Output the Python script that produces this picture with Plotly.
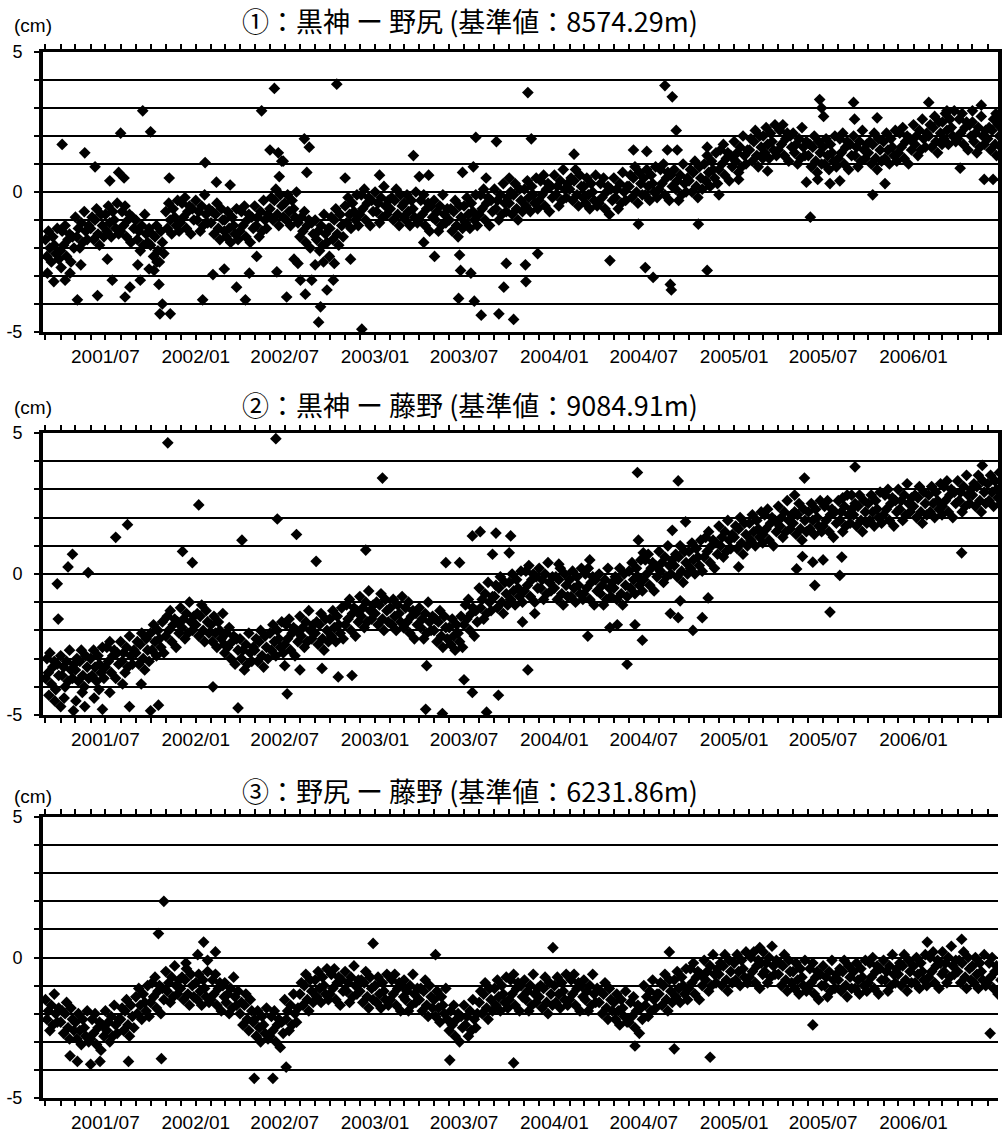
import plotly.graph_objects as go
import pandas as pd

# ---------------- data ----------------
months = [str(p) for p in pd.period_range("2001-03", "2006-06", freq="M")]
sample_days = [1, 4, 7, 10, 13, 16, 19, 22, 25, 28]

tick_months = [str(p) for p in pd.period_range("2001-03", "2006-06", freq="M")]
label_months = {"2001-07": "2001/07", "2002-01": "2002/01", "2002-07": "2002/07",
                "2003-01": "2003/01", "2003-07": "2003/07", "2004-01": "2004/01",
                "2004-07": "2004/07", "2005-01": "2005/01", "2005-07": "2005/07",
                "2006-01": "2006/01"}

titles = ["①：黒神 ー 野尻 (基準値：8574.29m)",
          "②：黒神 ー 藤野 (基準値：9084.91m)",
          "③：野尻 ー 藤野 (基準値：6231.86m)"]

# panel 1 : 黒神 - 野尻  (cm), 10 readings per month
p1_rows = [
    [-1.7, -2.3, -1.4, -2.0, -2.5, -1.6, -1.9, -2.2, -1.3, -2.4],
    [-2.1, -1.4, -1.9, -1.2, -2.3, -1.7, -1.5, -2.5, -1.6, -2.0],
    [-0.9, -1.6, -1.3, -2.0, -1.1, -1.8, -0.7, -1.4, -1.7, -1.2],
    [-1.3, -0.9, -1.7, -1.0, -0.6, -1.5, -1.9, -0.8, -1.2, -1.6],
    [-0.8, -1.4, -0.5, -1.1, -1.6, -0.7, -1.0, -1.3, -0.4, -1.5],
    [-1.4, -0.7, -1.2, -0.5, -1.6, -1.0, -0.8, -1.8, -0.9, -1.3],
    [-1.0, -1.7, -1.4, -2.1, -1.2, -1.9, -0.8, -1.5, -1.8, -1.3],
    [-1.9, -1.5, -2.3, -1.6, -1.2, -2.1, -2.5, -1.4, -1.8, -2.2],
    [-0.7, -1.3, -0.4, -1.0, -1.5, -0.6, -0.9, -1.2, -0.3, -1.4],
    [-1.1, -0.4, -0.9, -0.2, -1.3, -0.7, -0.5, -1.5, -0.6, -1.0],
    [-0.3, -1.0, -0.7, -1.4, -0.5, -1.2, -0.1, -0.8, -1.1, -0.6],
    [-1.1, -0.7, -1.5, -0.8, -0.4, -1.3, -1.7, -0.6, -1.0, -1.4],
    [-1.0, -1.6, -0.7, -1.3, -1.8, -0.9, -1.2, -1.5, -0.6, -1.7],
    [-1.4, -0.7, -1.2, -0.5, -1.6, -1.0, -0.8, -1.8, -0.9, -1.3],
    [-0.5, -1.2, -0.9, -1.6, -0.7, -1.4, -0.3, -1.0, -1.3, -0.8],
    [-0.6, -0.2, -1.0, -0.3, 0.1, -0.8, -1.2, -0.1, -0.5, -0.9],
    [-0.4, -1.0, -0.1, -0.7, -1.2, -0.3, -0.6, -0.9, 0.0, -1.1],
    [-1.6, -0.9, -1.4, -0.7, -1.8, -1.2, -1.0, -2.0, -1.1, -1.5],
    [-1.0, -1.7, -1.4, -2.1, -1.2, -1.9, -0.8, -1.5, -1.8, -1.3],
    [-1.3, -0.9, -1.7, -1.0, -0.6, -1.5, -1.9, -0.8, -1.2, -1.6],
    [-0.5, -1.1, -0.2, -0.8, -1.3, -0.4, -0.7, -1.0, -0.1, -1.2],
    [-0.8, -0.1, -0.6, 0.1, -1.0, -0.4, -0.2, -1.2, -0.3, -0.7],
    [0.0, -0.7, -0.4, -1.1, -0.2, -0.9, 0.2, -0.5, -0.8, -0.3],
    [-0.6, -0.2, -1.0, -0.3, 0.1, -0.8, -1.2, -0.1, -0.5, -0.9],
    [-0.4, -1.0, -0.1, -0.7, -1.2, -0.3, -0.6, -0.9, 0.0, -1.1],
    [-1.0, -0.3, -0.8, -0.1, -1.2, -0.6, -0.4, -1.4, -0.5, -0.9],
    [-0.3, -1.0, -0.7, -1.4, -0.5, -1.2, -0.1, -0.8, -1.1, -0.6],
    [-1.0, -0.6, -1.4, -0.7, -0.3, -1.2, -1.6, -0.5, -0.9, -1.3],
    [-0.5, -1.1, -0.2, -0.8, -1.3, -0.4, -0.7, -1.0, -0.1, -1.2],
    [-0.8, -0.1, -0.6, 0.1, -1.0, -0.4, -0.2, -1.2, -0.3, -0.7],
    [0.1, -0.6, -0.3, -1.0, -0.1, -0.8, 0.3, -0.4, -0.7, -0.2],
    [-0.4, 0.0, -0.8, -0.1, 0.3, -0.6, -1.0, 0.1, -0.3, -0.7],
    [0.1, -0.5, 0.4, -0.2, -0.7, 0.2, -0.1, -0.4, 0.5, -0.6],
    [-0.3, 0.4, -0.1, 0.6, -0.5, 0.1, 0.3, -0.7, 0.2, -0.2],
    [0.6, -0.1, 0.2, -0.5, 0.4, -0.3, 0.8, 0.1, -0.2, 0.3],
    [0.1, 0.5, -0.3, 0.4, 0.8, -0.1, -0.5, 0.6, 0.2, -0.2],
    [0.2, -0.4, 0.5, -0.1, -0.6, 0.3, 0.0, -0.3, 0.6, -0.5],
    [-0.4, 0.3, -0.2, 0.5, -0.6, 0.0, 0.2, -0.8, 0.1, -0.3],
    [0.5, -0.2, 0.1, -0.6, 0.3, -0.4, 0.7, 0.0, -0.3, 0.2],
    [0.2, 0.6, -0.2, 0.5, 0.9, 0.0, -0.4, 0.7, 0.3, -0.1],
    [0.5, -0.1, 0.8, 0.2, -0.3, 0.6, 0.3, 0.0, 0.9, -0.2],
    [0.1, 0.8, 0.3, 1.0, -0.1, 0.5, 0.7, -0.3, 0.6, 0.2],
    [0.8, 0.1, 0.4, -0.3, 0.6, -0.1, 1.0, 0.3, 0.0, 0.5],
    [0.4, 0.8, 0.0, 0.7, 1.1, 0.2, -0.2, 0.9, 0.5, 0.1],
    [1.0, 0.4, 1.3, 0.7, 0.2, 1.1, 0.8, 0.5, 1.4, 0.3],
    [0.8, 1.5, 1.0, 1.7, 0.6, 1.2, 1.4, 0.4, 1.3, 0.9],
    [1.8, 1.1, 1.4, 0.7, 1.6, 0.9, 2.0, 1.3, 1.0, 1.5],
    [1.5, 1.9, 1.1, 1.8, 2.2, 1.3, 0.9, 2.0, 1.6, 1.2],
    [2.0, 1.4, 2.3, 1.7, 1.2, 2.1, 1.8, 1.5, 2.4, 1.3],
    [1.5, 2.2, 1.7, 2.4, 1.3, 1.9, 2.1, 1.1, 2.0, 1.6],
    [2.1, 1.4, 1.7, 1.0, 1.9, 1.2, 2.3, 1.6, 1.3, 1.8],
    [1.3, 1.7, 0.9, 1.6, 2.0, 1.1, 0.7, 1.8, 1.4, 1.0],
    [1.6, 1.0, 1.9, 1.3, 0.8, 1.7, 1.4, 1.1, 2.0, 0.9],
    [1.2, 1.9, 1.4, 2.1, 1.0, 1.6, 1.8, 0.8, 1.7, 1.3],
    [2.0, 1.3, 1.6, 0.9, 1.8, 1.1, 2.2, 1.5, 1.2, 1.7],
    [1.4, 1.8, 1.0, 1.7, 2.1, 1.2, 0.8, 1.9, 1.5, 1.1],
    [1.8, 1.2, 2.1, 1.5, 1.0, 1.9, 1.6, 1.3, 2.2, 1.1],
    [1.4, 2.1, 1.6, 2.3, 1.2, 1.8, 2.0, 1.0, 1.9, 1.5],
    [2.4, 1.7, 2.0, 1.3, 2.2, 1.5, 2.6, 1.9, 1.6, 2.1],
    [2.0, 2.4, 1.6, 2.3, 2.7, 1.8, 1.4, 2.5, 2.1, 1.7],
    [2.5, 1.9, 2.8, 2.2, 1.7, 2.6, 2.3, 2.0, 2.9, 1.8],
    [1.9, 2.6, 2.1, 2.8, 1.7, 2.3, 2.5, 1.5, 2.4, 2.0],
    [2.5, 1.8, 2.1, 1.4, 2.3, 1.6, 2.7, 2.0, 1.7, 2.2],
    [1.9, 2.3, 1.5, 2.2, 2.6, 1.7, 1.3, 2.4, 2.0, 1.6],
]
p1_extra_dates = [
    "2001-04-04", "2001-05-20", "2001-08-01", "2001-09-15", "2001-10-01", "2001-06-10",
    "2002-01-20", "2002-05-15", "2002-06-10", "2002-06-01", "2002-06-18", "2002-06-25",
    "2002-08-10", "2002-08-20", "2002-10-15", "2003-03-20", "2003-07-25", "2003-09-05",
    "2003-11-08", "2003-11-15", "2004-02-10", "2004-08-13", "2004-08-28", "2004-09-05",
    "2005-06-05",
    "2001-05-05", "2001-06-15", "2001-08-10", "2001-10-20", "2001-11-10", "2001-10-25",
    "2002-01-15", "2002-03-25", "2002-04-12", "2002-07-05", "2002-08-12", "2002-09-12",
    "2002-09-08", "2002-09-25", "2002-12-05", "2003-06-20", "2003-07-22", "2003-08-05",
    "2003-09-10", "2003-10-10", "2003-09-20", "2003-07-15", "2003-09-25",
    "2003-11-03", "2003-11-04", "2003-11-28", "2004-04-23", "2004-07-04", "2004-07-20",
    "2004-08-24", "2004-08-26", "2004-11-07",
    "2001-04-10", "2001-04-02", "2001-07-15", "2001-08-20", "2001-09-10", "2001-09-28",
    "2001-10-18", "2002-02-05", "2002-02-28", "2002-04-20", "2002-06-15", "2002-07-28",
    "2002-08-02", "2002-08-25", "2002-09-18", "2002-10-08", "2002-10-10", "2002-11-12",
    "2003-04-10", "2003-05-02", "2003-06-22", "2003-06-24",
    "2001-07-10", "2001-07-28", "2001-08-08", "2001-11-08", "2002-02-12", "2002-03-12",
    "2002-06-20", "2002-06-28", "2002-08-15", "2002-11-01", "2003-01-10", "2003-04-01",
    "2003-04-20", "2003-06-28", "2003-07-20", "2003-08-15", "2003-10-01",
    "2004-06-10", "2004-07-07", "2004-08-18", "2004-09-07", "2004-11-07",
    "2005-06-24", "2005-06-28", "2005-07-02", "2005-09-01", "2005-09-03", "2005-10-19",
    "2006-02-01", "2006-03-10", "2006-05-01", "2006-05-19", "2006-06-18",
    "2005-05-28", "2005-06-20", "2005-07-15", "2005-08-04", "2005-10-10", "2005-11-04",
    "2006-04-06", "2006-05-25", "2006-06-12", "2005-03-10", "2005-01-10", "2004-12-01",
    "2004-06-20", "2004-10-20",
    "2001-03-05", "2001-03-18", "2001-04-20", "2001-05-12", "2001-07-05", "2001-09-05",
    "2001-10-08", "2001-10-14", "2002-05-05", "2002-07-20", "2002-09-01", "2002-09-30",
]
p1_extra_values = [
    1.7, 1.4, 2.1, 2.9, 2.15, 0.9,
    1.05, 2.9, 3.7, 1.5, 1.4, 1.1,
    1.9, 1.6, 3.85, 1.3, 1.95, 1.8,
    3.55, 1.9, 1.35, 3.8, 3.4, 2.2,
    -0.9,
    -3.85, -3.7, -3.75, -4.35, -4.35, -4.0,
    -3.85, -3.4, -3.85, -3.75, -3.65, -4.1,
    -4.65, -3.5, -4.9, -3.8, -3.9, -4.4,
    -4.35, -4.55, -3.4, -2.9, -2.55,
    -2.6, -3.2, -2.2, -2.45, -2.7, -3.05,
    -3.3, -3.5, -2.8,
    -3.15, -2.7, -3.15, -3.4, -3.15, -2.75,
    -3.3, -2.95, -2.75, -2.9, -2.85, -2.55,
    -3.15, -3.15, -2.5, -3.15, -2.55, -2.4,
    -1.8, -2.3, -2.25, -2.8,
    0.4, 0.7, 0.5, 0.5, 0.35, 0.25,
    0.55, 1.1, 0.7, 0.5, 0.6, 0.55,
    0.6, 0.7, 0.9, 0.5, 0.5,
    1.5, 1.45, 1.5, 1.5, 1.6,
    3.3, 3.0, 2.7, 3.2, 2.6, 2.65,
    3.2, 2.9, 2.9, 3.1, 2.8,
    0.35, 0.45, 0.3, 0.4, -0.1, 0.3,
    0.85, 0.45, 0.45, 0.75, 0.45, -0.1,
    -1.15, -1.15,
    -2.9, -3.2, -2.9, -2.6, -2.4, -2.6,
    -2.8, -2.5, -2.3, -2.4, -2.6, -2.3,
]

# panel 2 : 黒神 - 藤野  (cm)
p2_rows = [
    [-3.7, -3.0, -3.5, -2.8, -3.9, -3.3, -3.1, -4.1, -3.2, -3.6],
    [-2.9, -3.6, -3.3, -4.0, -3.1, -3.8, -2.7, -3.4, -3.7, -3.2],
    [-3.4, -3.0, -3.8, -3.1, -2.7, -3.6, -4.0, -2.9, -3.3, -3.7],
    [-3.0, -3.6, -2.7, -3.3, -3.8, -2.9, -3.2, -3.5, -2.6, -3.7],
    [-3.3, -2.6, -3.1, -2.4, -3.5, -2.9, -2.7, -3.7, -2.8, -3.2],
    [-2.4, -3.1, -2.8, -3.5, -2.6, -3.3, -2.2, -2.9, -3.2, -2.7],
    [-2.8, -2.4, -3.2, -2.5, -2.1, -3.0, -3.4, -2.3, -2.7, -3.1],
    [-2.1, -2.7, -1.8, -2.4, -2.9, -2.0, -2.3, -2.6, -1.7, -2.8],
    [-2.2, -1.5, -2.0, -1.3, -2.4, -1.8, -1.6, -2.6, -1.7, -2.1],
    [-1.2, -1.9, -1.6, -2.3, -1.4, -2.1, -1.0, -1.7, -2.0, -1.5],
    [-1.8, -1.4, -2.2, -1.5, -1.1, -2.0, -2.4, -1.3, -1.7, -2.1],
    [-1.8, -2.4, -1.5, -2.1, -2.6, -1.7, -2.0, -2.3, -1.4, -2.5],
    [-2.8, -2.1, -2.6, -1.9, -3.0, -2.4, -2.2, -3.2, -2.3, -2.7],
    [-2.3, -3.0, -2.7, -3.4, -2.5, -3.2, -2.1, -2.8, -3.1, -2.6],
    [-2.7, -2.3, -3.1, -2.4, -2.0, -2.9, -3.3, -2.2, -2.6, -3.0],
    [-2.1, -2.7, -1.8, -2.4, -2.9, -2.0, -2.3, -2.6, -1.7, -2.8],
    [-2.5, -1.8, -2.3, -1.6, -2.7, -2.1, -1.9, -2.9, -2.0, -2.4],
    [-1.5, -2.2, -1.9, -2.6, -1.7, -2.4, -1.3, -2.0, -2.3, -1.8],
    [-2.1, -1.7, -2.5, -1.8, -1.4, -2.3, -2.7, -1.6, -2.0, -2.4],
    [-1.6, -2.2, -1.3, -1.9, -2.4, -1.5, -1.8, -2.1, -1.2, -2.3],
    [-1.8, -1.1, -1.6, -0.9, -2.0, -1.4, -1.2, -2.2, -1.3, -1.7],
    [-0.8, -1.5, -1.2, -1.9, -1.0, -1.7, -0.6, -1.3, -1.6, -1.1],
    [-1.4, -1.0, -1.8, -1.1, -0.7, -1.6, -2.0, -0.9, -1.3, -1.7],
    [-1.2, -1.8, -0.9, -1.5, -2.0, -1.1, -1.4, -1.7, -0.8, -1.9],
    [-1.9, -1.2, -1.7, -1.0, -2.1, -1.5, -1.3, -2.3, -1.4, -1.8],
    [-1.2, -1.9, -1.6, -2.3, -1.4, -2.1, -1.0, -1.7, -2.0, -1.5],
    [-2.0, -1.6, -2.4, -1.7, -1.3, -2.2, -2.6, -1.5, -1.9, -2.3],
    [-1.9, -2.5, -1.6, -2.2, -2.7, -1.8, -2.1, -2.4, -1.5, -2.6],
    [-1.8, -1.1, -1.6, -0.9, -2.0, -1.4, -1.2, -2.2, -1.3, -1.7],
    [-0.5, -1.2, -0.9, -1.6, -0.7, -1.4, -0.3, -1.0, -1.3, -0.8],
    [-0.8, -0.4, -1.2, -0.5, -0.1, -1.0, -1.4, -0.3, -0.7, -1.1],
    [-0.3, -0.9, 0.0, -0.6, -1.1, -0.2, -0.5, -0.8, 0.1, -1.0],
    [-0.6, 0.1, -0.4, 0.3, -0.8, -0.2, 0.0, -1.0, -0.1, -0.5],
    [0.2, -0.5, -0.2, -0.9, 0.0, -0.7, 0.4, -0.3, -0.6, -0.1],
    [-0.5, -0.1, -0.9, -0.2, 0.2, -0.7, -1.1, 0.0, -0.4, -0.8],
    [-0.2, -0.8, 0.1, -0.5, -1.0, -0.1, -0.4, -0.7, 0.2, -0.9],
    [-0.7, 0.0, -0.5, 0.2, -0.9, -0.3, -0.1, -1.1, -0.2, -0.6],
    [0.0, -0.7, -0.4, -1.1, -0.2, -0.9, 0.2, -0.5, -0.8, -0.3],
    [-0.5, -0.1, -0.9, -0.2, 0.2, -0.7, -1.1, 0.0, -0.4, -0.8],
    [0.1, -0.5, 0.4, -0.2, -0.7, 0.2, -0.1, -0.4, 0.5, -0.6],
    [-0.2, 0.5, 0.0, 0.7, -0.4, 0.2, 0.4, -0.6, 0.3, -0.1],
    [0.8, 0.1, 0.4, -0.3, 0.6, -0.1, 1.0, 0.3, 0.0, 0.5],
    [0.3, 0.7, -0.1, 0.6, 1.0, 0.1, -0.3, 0.8, 0.4, 0.0],
    [0.8, 0.2, 1.1, 0.5, 0.0, 0.9, 0.6, 0.3, 1.2, 0.1],
    [0.6, 1.3, 0.8, 1.5, 0.4, 1.0, 1.2, 0.2, 1.1, 0.7],
    [1.7, 1.0, 1.3, 0.6, 1.5, 0.8, 1.9, 1.2, 0.9, 1.4],
    [1.3, 1.7, 0.9, 1.6, 2.0, 1.1, 0.7, 1.8, 1.4, 1.0],
    [1.8, 1.2, 2.1, 1.5, 1.0, 1.9, 1.6, 1.3, 2.2, 1.1],
    [1.4, 2.1, 1.6, 2.3, 1.2, 1.8, 2.0, 1.0, 1.9, 1.5],
    [2.4, 1.7, 2.0, 1.3, 2.2, 1.5, 2.6, 1.9, 1.6, 2.1],
    [1.8, 2.2, 1.4, 2.1, 2.5, 1.6, 1.2, 2.3, 1.9, 1.5],
    [2.2, 1.6, 2.5, 1.9, 1.4, 2.3, 2.0, 1.7, 2.6, 1.5],
    [1.7, 2.4, 1.9, 2.6, 1.5, 2.1, 2.3, 1.3, 2.2, 1.8],
    [2.6, 1.9, 2.2, 1.5, 2.4, 1.7, 2.8, 2.1, 1.8, 2.3],
    [2.1, 2.5, 1.7, 2.4, 2.8, 1.9, 1.5, 2.6, 2.2, 1.8],
    [2.5, 1.9, 2.8, 2.2, 1.7, 2.6, 2.3, 2.0, 2.9, 1.8],
    [2.1, 2.8, 2.3, 3.0, 1.9, 2.5, 2.7, 1.7, 2.6, 2.2],
    [3.0, 2.3, 2.6, 1.9, 2.8, 2.1, 3.2, 2.5, 2.2, 2.7],
    [2.4, 2.8, 2.0, 2.7, 3.1, 2.2, 1.8, 2.9, 2.5, 2.1],
    [2.8, 2.2, 3.1, 2.5, 2.0, 2.9, 2.6, 2.3, 3.2, 2.1],
    [2.4, 3.1, 2.6, 3.3, 2.2, 2.8, 3.0, 2.0, 2.9, 2.5],
    [3.3, 2.6, 2.9, 2.2, 3.1, 2.4, 3.5, 2.8, 2.5, 3.0],
    [2.8, 3.2, 2.4, 3.1, 3.5, 2.6, 2.2, 3.3, 2.9, 2.5],
    [3.2, 2.6, 3.5, 2.9, 2.4, 3.3, 3.0, 2.7, 3.6, 2.5],
]
p2_extra_dates = [
    "2001-11-05", "2002-06-13", "2003-01-16", "2002-01-07", "2002-06-16", "2001-08-15",
    "2001-07-22", "2001-04-25", "2001-04-16", "2001-03-25", "2001-03-27", "2001-05-27",
    "2001-12-05", "2001-12-25", "2002-04-05", "2002-07-25", "2002-09-03", "2002-12-13",
    "2003-05-25", "2003-06-22", "2003-07-18", "2003-08-03", "2003-09-04", "2003-10-04",
    "2003-08-28", "2003-10-01",
    "2001-04-01", "2001-04-27", "2001-05-20", "2001-06-25", "2001-08-19", "2001-10-01",
    "2001-10-17", "2002-02-05", "2002-03-28", "2002-07-06", "2002-07-01", "2002-08-01",
    "2002-09-15", "2002-10-18", "2002-11-15", "2003-04-16", "2003-04-14", "2003-05-18",
    "2003-07-01", "2003-07-18", "2003-09-09", "2003-08-16",
    "2004-06-18", "2004-09-09", "2005-09-04", "2005-05-24", "2005-05-04", "2005-08-28",
    "2005-08-10", "2006-05-21", "2004-09-24", "2004-08-28", "2004-06-20", "2004-06-30",
    "2004-03-13", "2004-01-10", "2005-01-10", "2006-04-09", "2005-05-08", "2005-06-14",
    "2005-08-04", "2005-07-15", "2005-05-20", "2005-06-10", "2005-07-01", "2005-08-08",
    "2003-11-08", "2003-10-28", "2003-11-22", "2004-03-09", "2004-04-23", "2004-05-08",
    "2004-05-28", "2004-06-13", "2004-06-28", "2004-08-24", "2004-09-09", "2004-10-09",
    "2004-10-28", "2004-11-09", "2004-09-13",
    "2001-03-08", "2001-03-20", "2001-04-08", "2001-05-02", "2001-05-15", "2001-06-08",
    "2001-06-18", "2001-07-10", "2001-08-05", "2001-09-12",
]
p2_extra_values = [
    4.65, 4.8, 3.4, 2.45, 1.95, 1.75,
    1.3, 0.7, 0.25, -0.35, -1.6, 0.05,
    0.8, 0.4, 1.2, 1.4, 0.45, 0.85,
    0.4, 0.4, 1.35, 1.5, 1.45, 1.35,
    0.7, 0.75,
    -4.7, -4.85, -4.7, -4.8, -4.7, -4.85,
    -4.65, -4.0, -4.75, -4.25, -3.25, -3.4,
    -3.35, -3.65, -3.6, -3.25, -4.8, -4.95,
    -3.75, -4.2, -4.3, -4.9,
    3.6, 3.3, 3.8, 3.4, 2.8, 2.8,
    2.7, 3.85, 1.85, 1.55, 1.2, 0.75,
    0.5, 0.35, 0.25, 0.75, 0.18, -0.4,
    -0.05, -1.35, 0.62, 0.42, 0.5, 0.6,
    -3.4, -1.7, -1.4, -2.2, -1.9, -1.8,
    -3.2, -1.8, -2.35, -1.4, -1.55, -2.0,
    -1.55, -0.85, -0.95,
    -4.3, -4.5, -4.4, -4.5, -4.2, -4.4,
    -4.1, -4.2, -3.9, -3.9,
]

# panel 3 : 野尻 - 藤野  (cm)
p3_rows = [
    [-1.5, -2.2, -1.9, -2.6, -1.7, -2.4, -1.3, -2.0, -2.3, -1.8],
    [-2.3, -1.9, -2.7, -2.0, -1.6, -2.5, -2.9, -1.8, -2.2, -2.6],
    [-2.3, -2.9, -2.0, -2.6, -3.1, -2.2, -2.5, -2.8, -1.9, -3.0],
    [-2.9, -2.2, -2.7, -2.0, -3.1, -2.5, -2.3, -3.3, -2.4, -2.8],
    [-1.9, -2.6, -2.3, -3.0, -2.1, -2.8, -1.7, -2.4, -2.7, -2.2],
    [-2.2, -1.8, -2.6, -1.9, -1.5, -2.4, -2.8, -1.7, -2.1, -2.5],
    [-1.4, -2.0, -1.1, -1.7, -2.2, -1.3, -1.6, -1.9, -1.0, -2.1],
    [-1.6, -0.9, -1.4, -0.7, -1.8, -1.2, -1.0, -2.0, -1.1, -1.5],
    [-0.5, -1.2, -0.9, -1.6, -0.7, -1.4, -0.3, -1.0, -1.3, -0.8],
    [-1.1, -0.7, -1.5, -0.8, -0.4, -1.3, -1.7, -0.6, -1.0, -1.4],
    [-0.9, -1.5, -0.6, -1.2, -1.7, -0.8, -1.1, -1.4, -0.5, -1.6],
    [-1.5, -0.8, -1.3, -0.6, -1.7, -1.1, -0.9, -1.9, -1.0, -1.4],
    [-0.9, -1.6, -1.3, -2.0, -1.1, -1.8, -0.7, -1.4, -1.7, -1.2],
    [-2.0, -1.6, -2.4, -1.7, -1.3, -2.2, -2.6, -1.5, -1.9, -2.3],
    [-2.2, -2.8, -1.9, -2.5, -3.0, -2.1, -2.4, -2.7, -1.8, -2.9],
    [-2.8, -2.1, -2.6, -1.9, -3.0, -2.4, -2.2, -3.2, -2.3, -2.7],
    [-1.5, -2.2, -1.9, -2.6, -1.7, -2.4, -1.3, -2.0, -2.3, -1.8],
    [-1.3, -0.9, -1.7, -1.0, -0.6, -1.5, -1.9, -0.8, -1.2, -1.6],
    [-0.8, -1.4, -0.5, -1.1, -1.6, -0.7, -1.0, -1.3, -0.4, -1.5],
    [-1.3, -0.6, -1.1, -0.4, -1.5, -0.9, -0.7, -1.7, -0.8, -1.2],
    [-0.5, -1.2, -0.9, -1.6, -0.7, -1.4, -0.3, -1.0, -1.3, -0.8],
    [-1.2, -0.8, -1.6, -0.9, -0.5, -1.4, -1.8, -0.7, -1.1, -1.5],
    [-1.0, -1.6, -0.7, -1.3, -1.8, -0.9, -1.2, -1.5, -0.6, -1.7],
    [-1.5, -0.8, -1.3, -0.6, -1.7, -1.1, -0.9, -1.9, -1.0, -1.4],
    [-0.8, -1.5, -1.2, -1.9, -1.0, -1.7, -0.6, -1.3, -1.6, -1.1],
    [-1.5, -1.1, -1.9, -1.2, -0.8, -1.7, -2.1, -1.0, -1.4, -1.8],
    [-1.5, -2.1, -1.2, -1.8, -2.3, -1.4, -1.7, -2.0, -1.1, -2.2],
    [-2.6, -1.9, -2.4, -1.7, -2.8, -2.2, -2.0, -3.0, -2.1, -2.5],
    [-1.7, -2.4, -2.1, -2.8, -1.9, -2.6, -1.5, -2.2, -2.5, -2.0],
    [-1.6, -1.2, -2.0, -1.3, -0.9, -1.8, -2.2, -1.1, -1.5, -1.9],
    [-1.1, -1.7, -0.8, -1.4, -1.9, -1.0, -1.3, -1.6, -0.7, -1.8],
    [-1.5, -0.8, -1.3, -0.6, -1.7, -1.1, -0.9, -1.9, -1.0, -1.4],
    [-0.8, -1.5, -1.2, -1.9, -1.0, -1.7, -0.6, -1.3, -1.6, -1.1],
    [-1.4, -1.0, -1.8, -1.1, -0.7, -1.6, -2.0, -0.9, -1.3, -1.7],
    [-1.0, -1.6, -0.7, -1.3, -1.8, -0.9, -1.2, -1.5, -0.6, -1.7],
    [-1.5, -0.8, -1.3, -0.6, -1.7, -1.1, -0.9, -1.9, -1.0, -1.4],
    [-0.8, -1.5, -1.2, -1.9, -1.0, -1.7, -0.6, -1.3, -1.6, -1.1],
    [-1.6, -1.2, -2.0, -1.3, -0.9, -1.8, -2.2, -1.1, -1.5, -1.9],
    [-1.6, -2.2, -1.3, -1.9, -2.4, -1.5, -1.8, -2.1, -1.2, -2.3],
    [-2.3, -1.6, -2.1, -1.4, -2.5, -1.9, -1.7, -2.7, -1.8, -2.2],
    [-1.0, -1.7, -1.4, -2.1, -1.2, -1.9, -0.8, -1.5, -1.8, -1.3],
    [-1.3, -0.9, -1.7, -1.0, -0.6, -1.5, -1.9, -0.8, -1.2, -1.6],
    [-0.8, -1.4, -0.5, -1.1, -1.6, -0.7, -1.0, -1.3, -0.4, -1.5],
    [-1.1, -0.4, -0.9, -0.2, -1.3, -0.7, -0.5, -1.5, -0.6, -1.0],
    [-0.1, -0.8, -0.5, -1.2, -0.3, -1.0, 0.1, -0.6, -0.9, -0.4],
    [-0.6, -0.2, -1.0, -0.3, 0.1, -0.8, -1.2, -0.1, -0.5, -0.9],
    [-0.2, -0.8, 0.1, -0.5, -1.0, -0.1, -0.4, -0.7, 0.2, -0.9],
    [-0.7, 0.0, -0.5, 0.2, -0.9, -0.3, -0.1, -1.1, -0.2, -0.6],
    [0.2, -0.5, -0.2, -0.9, 0.0, -0.7, 0.4, -0.3, -0.6, -0.1],
    [-0.6, -0.2, -1.0, -0.3, 0.1, -0.8, -1.2, -0.1, -0.5, -0.9],
    [-0.5, -1.1, -0.2, -0.8, -1.3, -0.4, -0.7, -1.0, -0.1, -1.2],
    [-1.1, -0.4, -0.9, -0.2, -1.3, -0.7, -0.5, -1.5, -0.6, -1.0],
    [-0.3, -1.0, -0.7, -1.4, -0.5, -1.2, -0.1, -0.8, -1.1, -0.6],
    [-0.8, -0.4, -1.2, -0.5, -0.1, -1.0, -1.4, -0.3, -0.7, -1.1],
    [-0.5, -1.1, -0.2, -0.8, -1.3, -0.4, -0.7, -1.0, -0.1, -1.2],
    [-0.9, -0.2, -0.7, 0.0, -1.1, -0.5, -0.3, -1.3, -0.4, -0.8],
    [-0.1, -0.8, -0.5, -1.2, -0.3, -1.0, 0.1, -0.6, -0.9, -0.4],
    [-0.6, -0.2, -1.0, -0.3, 0.1, -0.8, -1.2, -0.1, -0.5, -0.9],
    [-0.3, -0.9, 0.0, -0.6, -1.1, -0.2, -0.5, -0.8, 0.1, -1.0],
    [-0.7, 0.0, -0.5, 0.2, -0.9, -0.3, -0.1, -1.1, -0.2, -0.6],
    [0.2, -0.5, -0.2, -0.9, 0.0, -0.7, 0.4, -0.3, -0.6, -0.1],
    [-0.5, -0.1, -0.9, -0.2, 0.2, -0.7, -1.1, 0.0, -0.4, -0.8],
    [-0.3, -0.9, 0.0, -0.6, -1.1, -0.2, -0.5, -0.8, 0.1, -1.0],
    [-0.9, -0.2, -0.7, 0.0, -1.1, -0.5, -0.3, -1.3, -0.4, -0.8],
]
p3_extra_dates = [
    "2001-10-28", "2001-10-17", "2002-01-17", "2002-12-28", "2003-12-29", "2004-08-22",
    "2006-01-29", "2006-04-09", "2005-02-22", "2003-05-04",
    "2001-10-23", "2001-08-17", "2002-04-30", "2002-06-07", "2002-07-04", "2003-06-02",
    "2003-10-10", "2004-11-13", "2004-09-01", "2004-06-13", "2006-06-06", "2005-06-10",
    "2001-04-20", "2001-05-05", "2001-06-01", "2001-06-20",
    "2002-01-05", "2002-01-25", "2002-02-10", "2001-12-12",
]
p3_extra_values = [
    2.0, 0.85, 0.55, 0.5, 0.35, 0.2,
    0.55, 0.65, 0.35, 0.1,
    -3.6, -3.7, -4.3, -4.3, -3.9, -3.65,
    -3.75, -3.55, -3.25, -3.15, -2.7, -2.4,
    -3.5, -3.7, -3.8, -3.7,
    0.1, -0.1, 0.2, -0.2,
]

panels = [(p1_rows, p1_extra_dates, p1_extra_values),
          (p2_rows, p2_extra_dates, p2_extra_values),
          (p3_rows, p3_extra_dates, p3_extra_values)]

# ---------------- layout constants ----------------
W, H = 1002, 1142
x_dom = [43 / W, 998 / W]
panel_px = [(52, 332), (433, 715), (817, 1098)]     # top, bottom in pixels
title_y_px = [20, 404, 790]
cm_y_px = [25, 408, 796]
tick_font = dict(family="Liberation Sans, Arial, sans-serif", size=19, color="black")
ytick_font = dict(family="Liberation Sans, Arial, sans-serif", size=18, color="black")
cjk_font = dict(family="Noto Sans CJK JP, sans-serif", size=27, color="black")

x_tickvals = [m + "-01" for m in tick_months]
x_ticktext = [label_months.get(m, "") for m in tick_months]

fig = go.Figure()
layout = dict(width=W, height=H, margin=dict(l=0, r=0, t=0, b=0),
              paper_bgcolor="white", plot_bgcolor="white", showlegend=False,
              annotations=[])

y_tickvals = list(range(-5, 6))
y_ticktext = [str(v) if v in (-5, 0, 5) else "" for v in y_tickvals]

for i, (rows, ex_d, ex_v) in enumerate(panels):
    xs, ys = [], []
    for m, row in zip(months, rows):
        for d, v in zip(sample_days, row):
            xs.append(f"{m}-{d:02d}")
            ys.append(v)
    xs += ex_d
    ys += ex_v
    sfx = "" if i == 0 else str(i + 1)
    fig.add_trace(go.Scatter(
        x=xs, y=ys, mode="markers",
        marker=dict(symbol="diamond", size=9, color="black", line=dict(width=0)),
        xaxis="x" + sfx, yaxis="y" + sfx, cliponaxis=True))

    top, bot = panel_px[i]
    layout["xaxis" + sfx] = dict(
        domain=x_dom, anchor="y" + sfx, type="date",
        range=["2001-02-24", "2006-06-22"],
        tickmode="array", tickvals=x_tickvals, ticktext=x_ticktext,
        ticks="outside", ticklen=5, tickwidth=2, tickcolor="black",
        showline=True, linewidth=3, linecolor="black", mirror="ticks",
        showgrid=False, zeroline=False, tickfont=tick_font,
        automargin=False, fixedrange=True)
    layout["yaxis" + sfx] = dict(
        domain=[1 - bot / H, 1 - top / H], anchor="x" + sfx,
        range=[-5, 5], tickmode="array", tickvals=y_tickvals, ticktext=y_ticktext,
        ticks="outside", ticklen=5, tickwidth=2, tickcolor="black",
        showline=True, linewidth=4, linecolor="black",
        mirror=(i < 2),
        showgrid=True, gridcolor="black", gridwidth=2, zeroline=False,
        tickfont=ytick_font, ticklabelstandoff=8,
        automargin=False, fixedrange=True)

    layout["annotations"].append(dict(
        text=titles[i], xref="paper", yref="paper",
        x=240 / W, y=1 - title_y_px[i] / H, xanchor="left", yanchor="middle",
        showarrow=False, font=cjk_font))
    layout["annotations"].append(dict(
        text="(cm)", xref="paper", yref="paper",
        x=12 / W, y=1 - cm_y_px[i] / H, xanchor="left", yanchor="middle",
        showarrow=False, font=dict(family="Liberation Sans, Arial, sans-serif",
                                   size=19, color="black")))

fig.update_layout(**layout)
fig.write_html("out.html", config={"displayModeBar": False},
               post_script="document.body.style.margin='0';document.body.style.overflow='hidden';")
